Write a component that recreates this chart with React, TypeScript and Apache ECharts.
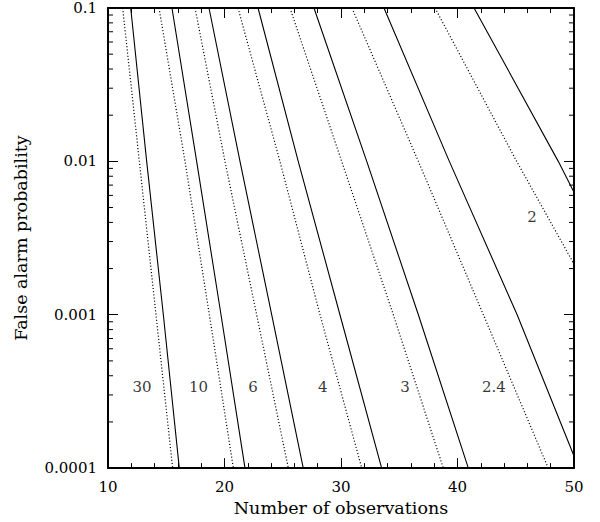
import React, { useEffect, useRef } from "react";
import * as echarts from "echarts";

// Tick labels
const yTickLabels = ["0.0001", "0.001", "0.01", "0.1"];
const yMinorMultipliers = [2, 3, 4, 5, 6, 7, 8, 9];
const yMinorDecades = [0.0001, 0.001, 0.01];

// Curve labels and their positions (x, false alarm probability)
const curveLabels = ["30", "10", "6", "4", "3", "2.4", "2"];
const labelX = [12.92, 17.77, 22.45, 28.43, 35.49, 43.13, 46.39];
const labelY = [3.37e-4, 3.37e-4, 3.37e-4, 3.37e-4, 3.37e-4, 3.37e-4, 0.00433];

// Curves: [number of observations, false alarm probability]
const dotted30: [number, number][] = [[11.26, 0.1], [12.69, 0.01], [14.12, 0.001], [15.55, 0.0001]];
const solid30: [number, number][] = [[11.95, 0.1], [13.32, 0.01], [14.75, 0.001], [16.12, 0.0001]];
const dotted10: [number, number][] = [[14.38, 0.1], [16.61, 0.01], [18.7, 0.001], [20.76, 0.0001]];
const solid10: [number, number][] = [[15.49, 0.1], [17.61, 0.01], [19.7, 0.001], [21.76, 0.0001]];
const dotted6: [number, number][] = [[17.47, 0.1], [20.04, 0.01], [22.76, 0.001], [25.48, 0.0001]];
const solid6: [number, number][] = [[18.67, 0.1], [21.33, 0.01], [24.05, 0.001], [26.76, 0.0001]];
const dotted4: [number, number][] = [[21.16, 0.1], [24.76, 0.01], [28.2, 0.001], [31.78, 0.0001]];
const solid4: [number, number][] = [[22.88, 0.1], [26.33, 0.01], [29.91, 0.001], [33.49, 0.0001]];
const dotted3: [number, number][] = [[25.62, 0.1], [30.06, 0.01], [34.49, 0.001], [38.78, 0.0001]];
const solid3: [number, number][] = [[27.68, 0.1], [32.21, 0.01], [36.64, 0.001], [40.93, 0.0001]];
const dotted24: [number, number][] = [[30.94, 0.1], [36.64, 0.01], [42.22, 0.001], [47.79, 0.0001]];
const solid24: [number, number][] = [[33.69, 0.1], [39.3, 0.01], [45.12, 0.001], [50, 0.00012]];
const dotted2: [number, number][] = [[38.07, 0.1], [45.08, 0.01], [50, 0.00214]];
const solid2: [number, number][] = [[41.42, 0.1], [48.65, 0.01], [50, 0.0063]];

const dottedCurves = [dotted30, dotted10, dotted6, dotted4, dotted3, dotted24, dotted2];
const solidCurves = [solid30, solid10, solid6, solid4, solid3, solid24, solid2];

const FONT = "DejaVu Serif";

export default function App() {
  const ref = useRef<HTMLDivElement>(null);

  useEffect(() => {
    if (!ref.current) return;
    const chart = echarts.init(ref.current, null, { renderer: "svg" });

    const minorTickData: [number, number][] = [];
    yMinorDecades.forEach((d) => {
      yMinorMultipliers.forEach((m) => minorTickData.push([10, m * d]));
    });

    const axisCommonX = {
      type: "value" as const,
      min: 10,
      max: 50,
      interval: 10,
      splitLine: { show: false },
      axisLine: { show: true, lineStyle: { color: "#000", width: 2 } },
      axisTick: { show: true, inside: true, length: 10, lineStyle: { color: "#000", width: 1 } },
      minorTick: { show: true, splitNumber: 5, length: 5, lineStyle: { color: "#000", width: 1 } },
      minorSplitLine: { show: false },
    };
    const axisCommonY = {
      type: "log" as const,
      logBase: 10,
      min: 0.0001,
      max: 0.1,
      splitLine: { show: false },
      axisLine: { show: true, lineStyle: { color: "#000", width: 2 } },
      axisTick: { show: true, inside: true, length: 10, lineStyle: { color: "#000", width: 1 } },
    };

    const series: any[] = [];
    dottedCurves.forEach((c, i) => {
      series.push({
        type: "line",
        name: "dotted " + curveLabels[i],
        data: c,
        symbol: "none",
        showSymbol: false,
        clip: true,
        lineStyle: { color: "#000", width: 1.2, type: [1.1, 2.1] },
        silent: true,
      });
    });
    solidCurves.forEach((c, i) => {
      series.push({
        type: "line",
        name: "solid " + curveLabels[i],
        data: c,
        symbol: "none",
        showSymbol: false,
        clip: true,
        lineStyle: { color: "#000", width: 1.1, type: "solid" },
        silent: true,
      });
    });
    series.push({
      type: "scatter",
      name: "labels",
      symbolSize: 0,
      data: curveLabels.map((n, i) => ({ name: n, value: [labelX[i], labelY[i]] })),
      label: {
        show: true,
        position: "inside",
        formatter: "{b}",
        color: "#000",
        fontFamily: FONT,
        fontSize: 15,
      },
      silent: true,
    });
    series.push({
      type: "custom",
      name: "yMinorTicks",
      data: minorTickData,
      clip: false,
      silent: true,
      renderItem: (params: any, api: any) => {
        const v = api.value(1);
        const l = api.coord([10, v]);
        const r = api.coord([50, v]);
        const style = { stroke: "#000", lineWidth: 1 };
        return {
          type: "group",
          children: [
            { type: "line", shape: { x1: l[0], y1: l[1], x2: l[0] + 5, y2: l[1] }, style },
            { type: "line", shape: { x1: r[0], y1: r[1], x2: r[0] - 5, y2: r[1] }, style },
          ],
        };
      },
    });

    chart.setOption({
      animation: false,
      backgroundColor: "#fff",
      grid: { left: 108, top: 8, width: 466, height: 466, containLabel: false },
      xAxis: [
        {
          ...axisCommonX,
          position: "bottom",
          name: "Number of observations",
          nameLocation: "middle",
          nameGap: 29,
          nameTextStyle: { color: "#000", fontFamily: FONT, fontSize: 17.5 },
          axisLabel: { show: true, margin: 11, color: "#000", fontFamily: FONT, fontSize: 15 },
        },
        {
          ...axisCommonX,
          position: "top",
          axisLabel: { show: false },
        },
      ],
      yAxis: [
        {
          ...axisCommonY,
          position: "left",
          name: "False alarm probability",
          nameLocation: "middle",
          nameGap: 78,
          nameTextStyle: { color: "#000", fontFamily: FONT, fontSize: 17.5 },
          axisLabel: {
            show: true,
            margin: 11,
            color: "#000",
            fontFamily: FONT,
            fontSize: 15,
            formatter: (v: number) => yTickLabels[Math.round(Math.log10(v)) + 4] ?? "",
          },
        },
        {
          ...axisCommonY,
          position: "right",
          axisLabel: { show: false },
        },
      ],
      series,
    });

    return () => chart.dispose();
  }, []);

  return (
    <div
      ref={ref}
      style={{ position: "absolute", left: 0, top: 0, width: 600, height: 522, background: "#fff" }}
    />
  );
}
